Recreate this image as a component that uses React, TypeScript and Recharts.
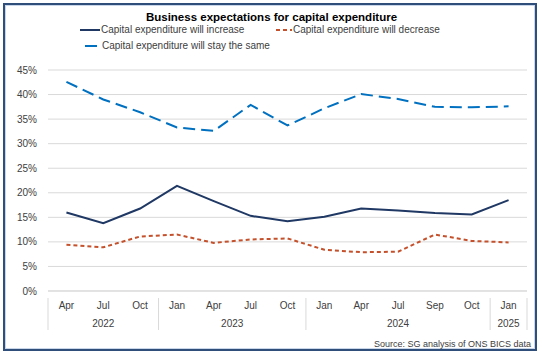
import { CartesianGrid, Legend, Line, LineChart, XAxis, YAxis } from "recharts";

const months = ["Apr", "Jul", "Oct", "Jan", "Apr", "Jul", "Oct", "Jan", "Apr", "Jul", "Sep", "Oct", "Jan"];
const years = ["2022", "2022", "2022", "2023", "2023", "2023", "2023", "2024", "2024", "2024", "2024", "2024", "2025"];
const increase = [16.0, 13.8, 16.8, 21.4, 18.3, 15.3, 14.2, 15.1, 16.8, 16.4, 15.9, 15.6, 18.5];
const decrease = [9.4, 8.9, 11.1, 11.5, 9.8, 10.5, 10.7, 8.4, 7.9, 8.0, 11.5, 10.2, 9.9];
const staySame = [42.6, 39.0, 36.4, 33.3, 32.6, 37.9, 33.7, 37.2, 40.1, 39.1, 37.5, 37.4, 37.6];
const yTicks = [0, 5, 10, 15, 20, 25, 30, 35, 40, 45];

const chartData = months.map((m, i) => ({
  key: `${m} ${years[i]}`,
  month: m,
  year: years[i],
  increase: increase[i],
  decrease: decrease[i],
  same: staySame[i],
}));

const FONT = "'Liberation Sans', Arial, sans-serif";
const BAND = (527 - 48) / months.length;

const series = [
  { key: "increase", name: "Capital expenditure will increase", color: "#1f3864", dash: undefined, offset: 0 },
  { key: "decrease", name: "Capital expenditure will decrease", color: "#c4512b", dash: "4 3", offset: 0 },
  { key: "same", name: "Capital expenditure will stay the same", color: "#0070c0", dash: "12 6", offset: 13 },
];

// month label, year label under the middle of its group, and group dividers
const CategoryTick = (props: any) => {
  const { x, y, payload } = props;
  const i = payload.index;
  const year = years[i];
  const first = years.indexOf(year);
  const last = years.lastIndexOf(year);
  const mid = (first + last) / 2;
  const left = x - BAND / 2;
  const right = x + BAND / 2;
  return (
    <g>
      <text x={x} y={y + 10} textAnchor="middle" fill="#404040" fontSize={10} fontFamily={FONT}>
        {months[i]}
      </text>
      {i === first && <line x1={left} x2={left} y1={y - 1} y2={y + 31} stroke="#d9d9d9" />}
      {i === months.length - 1 && <line x1={right} x2={right} y1={y - 1} y2={y + 31} stroke="#d9d9d9" />}
      {Math.abs(i - mid) < 0.01 && (
        <text x={x} y={y + 28} textAnchor="middle" fill="#404040" fontSize={10} fontFamily={FONT}>
          {year}
        </text>
      )}
      {Math.abs(i - mid - 0.5) < 0.01 && (
        <text x={x - BAND / 2} y={y + 28} textAnchor="middle" fill="#404040" fontSize={10} fontFamily={FONT}>
          {year}
        </text>
      )}
    </g>
  );
};

const LegendContent = () => (
  <div style={{ fontFamily: FONT, fontSize: 10, color: "#404040", position: "relative", height: 34 }}>
    {series.map((s, i) => {
      const left = i === 1 ? 276 : 80;
      const top = i === 2 ? 16 : 0;
      return (
        <div key={s.key} style={{ position: "absolute", left, top, display: "flex", alignItems: "center", whiteSpace: "nowrap" }}>
          <svg width={i === 1 ? 17 : 21} height={10}>
            <line
              x1={0}
              x2={i === 1 ? 16 : 20}
              y1={5}
              y2={5}
              stroke={s.color}
              strokeWidth={2}
              strokeDasharray={s.dash}
              strokeDashoffset={s.offset}
            />
          </svg>
          <span style={{ marginLeft: i === 2 ? 1 : 0 }}>{s.name}</span>
        </div>
      );
    })}
  </div>
);

export default function App() {
  return (
    <div style={{ position: "fixed", left: 0, top: 0, width: 543, height: 358, background: "#fff" }}>
      <div
        style={{
          position: "absolute",
          left: 3,
          top: 3,
          width: 530,
          height: 344,
          border: "2px solid #2f4e7a",
          boxShadow: "inset 0 0 0 1px #c9d6ea",
        }}
      />
      <div
        style={{
          position: "absolute",
          top: 11,
          width: 543,
          textAlign: "center",
          fontFamily: FONT,
          fontWeight: "bold",
          fontSize: 11.5,
          color: "#000",
        }}
      >
        Business expectations for capital expenditure
      </div>
      <div
        style={{
          position: "absolute",
          right: 12,
          top: 339,
          fontFamily: FONT,
          fontSize: 9,
          color: "#404040",
        }}
      >
        Source: SG analysis of ONS BICS data
      </div>
      <LineChart
        width={543}
        height={358}
        data={chartData}
        margin={{ top: 70, right: 16, bottom: 27, left: 0 }}
        style={{ position: "absolute", left: 0, top: 0 }}
      >
        <CartesianGrid vertical={false} stroke="#d9d9d9" />
        <XAxis
          dataKey="key"
          scale="band"
          interval={0}
          height={40}
          tickLine={false}
          axisLine={{ stroke: "#d9d9d9" }}
          tick={<CategoryTick />}
        />
        <YAxis
          width={48}
          domain={[0, 45]}
          ticks={yTicks}
          tickFormatter={(v) => `${v}%`}
          axisLine={false}
          tickLine={false}
          tickMargin={5}
          tick={{ fill: "#404040", fontSize: 10, fontFamily: FONT }}
        />
        <Legend
          verticalAlign="middle"
          align="center"
          wrapperStyle={{ top: 24, left: 0, width: 543 }}
          content={<LegendContent />}
        />
        {series.map((s) => (
          <Line
            key={s.key}
            dataKey={s.key}
            name={s.name}
            stroke={s.color}
            strokeWidth={2}
            strokeDasharray={s.dash}
            dot={false}
            activeDot={false}
            isAnimationActive={false}
          />
        ))}
      </LineChart>
    </div>
  );
}
